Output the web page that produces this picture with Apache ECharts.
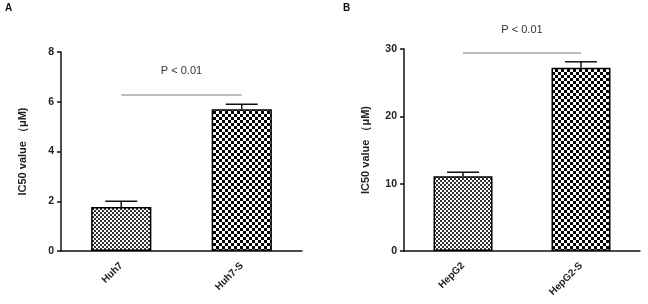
<!DOCTYPE html>
<html>
<head>
<meta charset="utf-8">
<script src="https://cdn.jsdelivr.net/npm/echarts@6/dist/echarts.min.js"></script>
<style>
  html, body { margin: 0; padding: 0; background: #fff; }
  #main { width: 648px; height: 304px; }
</style>
</head>
<body>
<div id="main"></div>
<script>
// panel A
var catsA = ['Huh7', 'Huh7-S'];
var valsA = [1.77, 5.7];
var errA = [0.23, 0.2];
var ticksA = [0, 8, 2];      // min, max, interval
var pLineA = 6.3;

// panel B
var catsB = ['HepG2', 'HepG2-S'];
var valsB = [11.1, 27.2];
var errB = [0.6, 0.9];
var ticksB = [0, 30, 10];
var pLineB = 29.4;

var pText = 'P < 0.01';
var yName = 'IC50 value （μM)';

function makeChecker(cell, dark) {
    var c = document.createElement('canvas');
    c.width = cell * 2;
    c.height = cell * 2;
    var ctx = c.getContext('2d');
    ctx.fillStyle = '#fff';
    ctx.fillRect(0, 0, c.width, c.height);
    ctx.fillStyle = dark;
    ctx.fillRect(0, 0, cell, cell);
    ctx.fillRect(cell, cell, cell, cell);
    return c;
}
var fine = { image: makeChecker(2, '#333'), repeat: 'repeat' };
var coarse = { image: makeChecker(3, '#000'), repeat: 'repeat' };

var font = 'Liberation Sans, Arial, sans-serif';

function xAxis(idx, cats) {
    return {
        type: 'category', gridIndex: idx, data: cats,
        axisLine: { lineStyle: { color: '#111', width: 1.5 } },
        axisTick: { alignWithLabel: true, length: 7, lineStyle: { color: '#111', width: 1.5 } },
        axisLabel: { rotate: 45, fontSize: 10, fontWeight: 'bold', color: '#222', fontFamily: font, margin: 13 }
    };
}
function yAxis(idx, t) {
    return {
        type: 'value', gridIndex: idx, min: t[0], max: t[1], interval: t[2],
        name: yName, nameLocation: 'middle', nameGap: 33, nameRotate: 90,
        nameTextStyle: { fontSize: 11, fontWeight: 'bold', color: '#222', fontFamily: font },
        axisLine: { show: true, lineStyle: { color: '#111', width: 1.5 } },
        axisTick: { show: true, length: 4, lineStyle: { color: '#111', width: 1.5 } },
        axisLabel: { fontSize: 10.5, fontWeight: 'bold', color: '#222', fontFamily: font, margin: 7 },
        splitLine: { show: false }
    };
}
function barSeries(idx, vals, pLine) {
    return {
        type: 'bar', xAxisIndex: idx, yAxisIndex: idx, barWidth: '50%',
        data: vals.map(function (v, i) {
            return { value: v, itemStyle: { color: i === 0 ? fine : coarse, borderColor: '#000', borderWidth: 1.5 } };
        }),
        markLine: {
            symbol: 'none', silent: true,
            lineStyle: { color: '#aaa', width: 1.5, type: 'solid' },
            label: { show: true, position: 'middle', formatter: pText, distance: 18, fontSize: 11, color: '#333', fontFamily: font },
            data: [[{ coord: [0, pLine] }, { coord: [1, pLine] }]]
        }
    };
}
function errSeries(idx, vals, errs) {
    return {
        type: 'custom', xAxisIndex: idx, yAxisIndex: idx, z: 5,
        data: vals.map(function (v, i) { return [i, v, v + errs[i]]; }),
        renderItem: function (params, api) {
            var lo = api.coord([api.value(0), api.value(1)]);
            var hi = api.coord([api.value(0), api.value(2)]);
            var w = 16;
            var st = { stroke: '#111', lineWidth: 1.5 };
            return {
                type: 'group',
                children: [
                    { type: 'line', shape: { x1: lo[0], y1: lo[1], x2: hi[0], y2: hi[1] }, style: st },
                    { type: 'line', shape: { x1: hi[0] - w, y1: hi[1], x2: hi[0] + w, y2: hi[1] }, style: st }
                ]
            };
        }
    };
}

var chart = echarts.init(document.getElementById('main'));
chart.setOption({
    animation: false,
    textStyle: { fontFamily: font },
    graphic: [
        { type: 'text', left: 5, top: 3, style: { text: 'A', font: 'bold 10px ' + font, fill: '#111' } },
        { type: 'text', left: 343, top: 3, style: { text: 'B', font: 'bold 10px ' + font, fill: '#111' } }
    ],
    grid: [
        { left: 61, right: 346, top: 52, bottom: 53 },
        { left: 404, right: 8, top: 49, bottom: 53 }
    ],
    xAxis: [xAxis(0, catsA), xAxis(1, catsB)],
    yAxis: [yAxis(0, ticksA), yAxis(1, ticksB)],
    series: [
        barSeries(0, valsA, pLineA), errSeries(0, valsA, errA),
        barSeries(1, valsB, pLineB), errSeries(1, valsB, errB)
    ]
});
</script>
</body>
</html>
